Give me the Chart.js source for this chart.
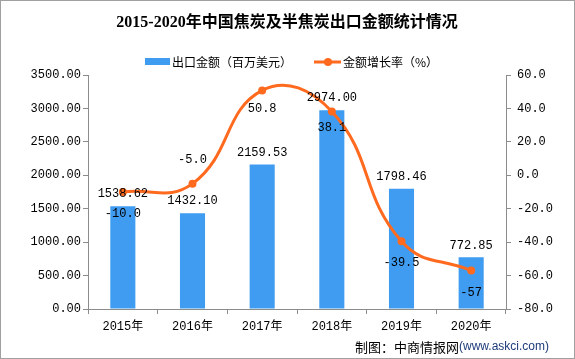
<!DOCTYPE html>
<html>
<head>
<meta charset="utf-8">
<script src="https://cdn.jsdelivr.net/npm/chart.js@4/dist/chart.umd.min.js"></script>
<style>
  html, body { margin: 0; padding: 0; background: #fff; }
  #wrap { width: 575px; height: 359px; position: relative; }
</style>
</head>
<body>
<div id="wrap"><canvas id="chart" width="575" height="359"></canvas></div>
<script>
const years = ['2015年', '2016年', '2017年', '2018年', '2019年', '2020年'];
const exportValue = [1538.62, 1432.10, 2159.53, 2974.00, 1798.46, 772.85];
const growthRate = [-10.0, -5.0, 50.8, 38.1, -39.5, -57];
const growthLabels = ['-10.0', '-5.0', '50.8', '38.1', '-39.5', '-57'];
const leftTicks = [0, 500, 1000, 1500, 2000, 2500, 3000, 3500];
const rightTicks = [-80, -60, -40, -20, 0, 20, 40, 60];

const MONO = '"Liberation Mono", "Noto Sans CJK SC", monospace';
const CJK = '"Noto Sans CJK SC", sans-serif';
const BLUE = '#3f9cf0';
const ORANGE = '#ff6a1f';
const AXIS = '#8c8c8c';

// labels above/below the line points: -5.0 sits above, the rest below
const growthOffset = [22, -24, 18, 16, 22, 22];

const decorations = {
    id: 'decorations',
    afterDatasetsDraw(chart) {
        const ctx = chart.ctx;
        ctx.save();
        ctx.font = '12px ' + MONO;
        ctx.fillStyle = '#000';
        ctx.textAlign = 'center';
        ctx.textBaseline = 'middle';
        chart.getDatasetMeta(1).data.forEach((bar, i) => {
            ctx.fillText(exportValue[i].toFixed(2), bar.x, bar.y - 12);
        });
        chart.getDatasetMeta(0).data.forEach((pt, i) => {
            ctx.fillText(growthLabels[i], pt.x, pt.y + growthOffset[i]);
        });
        ctx.restore();
    },
    afterDraw(chart) {
        const ctx = chart.ctx;
        ctx.save();
        // title
        ctx.fillStyle = '#000';
        ctx.textAlign = 'center';
        ctx.textBaseline = 'middle';
        ctx.font = 'bold 16px "Liberation Serif", "Noto Sans CJK SC", serif';
        ctx.fillText('2015-2020年中国焦炭及半焦炭出口金额统计情况', 287, 23);

        // legend
        ctx.textAlign = 'left';
        ctx.font = '12px ' + CJK;
        ctx.fillStyle = BLUE;
        ctx.fillRect(145, 58, 25, 7);
        ctx.fillStyle = '#000';
        ctx.fillText('出口金额（百万美元）', 172, 62);
        ctx.strokeStyle = ORANGE;
        ctx.lineWidth = 3;
        ctx.beginPath();
        ctx.moveTo(314, 62);
        ctx.lineTo(341, 62);
        ctx.stroke();
        ctx.fillStyle = ORANGE;
        ctx.beginPath();
        ctx.arc(328, 62, 4, 0, Math.PI * 2);
        ctx.fill();
        ctx.fillStyle = '#000';
        ctx.fillText('金额增长率（%）', 343, 62);

        // source
        ctx.font = '13px ' + CJK;
        ctx.fillText('制图：中商情报网', 355, 347);
        const w = ctx.measureText('制图：中商情报网').width;
        ctx.font = '12px "Liberation Sans", sans-serif';
        ctx.fillStyle = '#1f3b7a';
        ctx.fillText('(www.askci.com)', 355 + w, 347);

        // frame
        ctx.strokeStyle = '#a0a0a0';
        ctx.lineWidth = 1;
        ctx.strokeRect(0.5, 0.5, 574, 358);
        ctx.restore();
    }
};

new Chart(document.getElementById('chart'), {
    type: 'bar',
    data: {
        labels: years,
        datasets: [{
            type: 'line',
            label: '金额增长率（%）',
            data: growthRate,
            yAxisID: 'y1',
            borderColor: ORANGE,
            backgroundColor: ORANGE,
            borderWidth: 3,
            pointRadius: 4,
            pointBackgroundColor: ORANGE,
            pointBorderWidth: 0,
            tension: 0.45,
            order: 0
        }, {
            type: 'bar',
            label: '出口金额（百万美元）',
            data: exportValue,
            yAxisID: 'y',
            backgroundColor: BLUE,
            barPercentage: 0.45,
            categoryPercentage: 0.8,
            order: 1
        }]
    },
    options: {
        responsive: false,
        animation: false,
        layout: { padding: { top: 75, left: 0, right: 0, bottom: 0 } },
        plugins: { legend: { display: false }, title: { display: false }, tooltip: { enabled: false } },
        scales: {
            x: {
                grid: { drawOnChartArea: false, tickLength: 5, color: AXIS, offset: true },
                border: { color: AXIS },
                ticks: { font: { family: MONO, size: 12 }, color: '#000', padding: 6 },
                afterFit: s => { s.height = 50; }
            },
            y: {
                position: 'left',
                min: 0, max: 3500,
                afterBuildTicks: s => { s.ticks = leftTicks.map(v => ({ value: v })); },
                grid: { drawOnChartArea: false, tickLength: 5, color: AXIS },
                border: { color: AXIS },
                ticks: { font: { family: MONO, size: 12 }, color: '#000', padding: 2, callback: v => v.toFixed(2) },
                afterFit: s => { s.width = 88; }
            },
            y1: {
                position: 'right',
                min: -80, max: 60,
                afterBuildTicks: s => { s.ticks = rightTicks.map(v => ({ value: v })); },
                grid: { drawOnChartArea: false, tickLength: 5, color: AXIS },
                border: { color: AXIS },
                ticks: { font: { family: MONO, size: 12 }, color: '#000', padding: 6, callback: v => v.toFixed(1) },
                afterFit: s => { s.width = 69; }
            }
        }
    },
    plugins: [decorations]
});
</script>
</body>
</html>
